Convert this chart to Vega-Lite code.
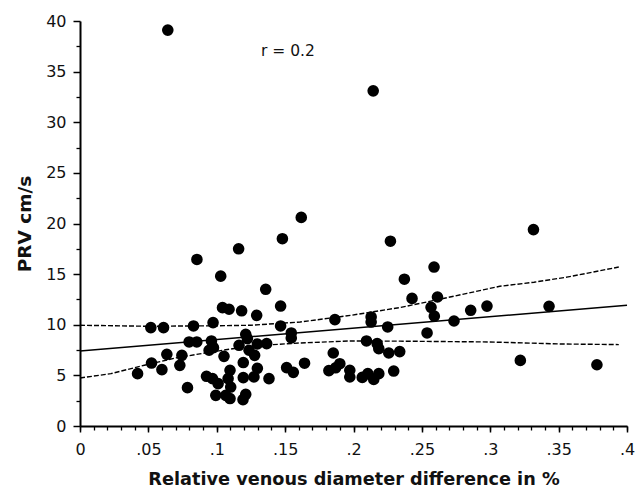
{
  "$schema": "https://vega.github.io/schema/vega-lite/v6.json",
  "autosize": {"type": "none"},
  "padding": {"left": 80, "top": 21, "right": 16, "bottom": 61},
  "width": 547,
  "height": 405,
  "background": "white",
  "config": {
    "view": {"stroke": null},
    "axis": {"grid": false, "domainColor": "black", "tickColor": "black", "labelColor": "#111", "titleColor": "#111", "labelFont": "DejaVu Sans", "titleFont": "DejaVu Sans"}
  },
  "datasets": {
    "pts": [
      {"x": 0.0642, "y": 39.1}, {"x": 0.2144, "y": 33.1}, {"x": 0.1618, "y": 20.6}, {"x": 0.148, "y": 18.5},
      {"x": 0.227, "y": 18.25}, {"x": 0.3316, "y": 19.4}, {"x": 0.116, "y": 17.5}, {"x": 0.0855, "y": 16.45},
      {"x": 0.1029, "y": 14.8}, {"x": 0.1358, "y": 13.5}, {"x": 0.2372, "y": 14.5}, {"x": 0.2589, "y": 15.7},
      {"x": 0.2428, "y": 12.6}, {"x": 0.2614, "y": 12.74}, {"x": 0.2567, "y": 11.72}, {"x": 0.2591, "y": 10.85},
      {"x": 0.2857, "y": 11.43}, {"x": 0.2976, "y": 11.84}, {"x": 0.343, "y": 11.82}, {"x": 0.2735, "y": 10.37},
      {"x": 0.2538, "y": 9.19}, {"x": 0.225, "y": 9.78}, {"x": 0.2129, "y": 10.77}, {"x": 0.2129, "y": 10.27},
      {"x": 0.1864, "y": 10.51}, {"x": 0.1467, "y": 11.85}, {"x": 0.1467, "y": 9.88}, {"x": 0.1545, "y": 9.19},
      {"x": 0.1545, "y": 8.69}, {"x": 0.1292, "y": 10.93}, {"x": 0.1042, "y": 11.69}, {"x": 0.109, "y": 11.53},
      {"x": 0.1182, "y": 11.38}, {"x": 0.0973, "y": 10.21}, {"x": 0.083, "y": 9.88}, {"x": 0.0518, "y": 9.72},
      {"x": 0.0611, "y": 9.72}, {"x": 0.0798, "y": 8.3}, {"x": 0.0854, "y": 8.3}, {"x": 0.0961, "y": 8.4},
      {"x": 0.0944, "y": 7.48}, {"x": 0.0976, "y": 7.74}, {"x": 0.1212, "y": 9.06}, {"x": 0.1224, "y": 8.63},
      {"x": 0.1163, "y": 7.97}, {"x": 0.1297, "y": 8.1}, {"x": 0.1236, "y": 7.48}, {"x": 0.1277, "y": 6.98},
      {"x": 0.1365, "y": 8.14}, {"x": 0.1053, "y": 6.88}, {"x": 0.1194, "y": 6.27}, {"x": 0.0635, "y": 7.08},
      {"x": 0.0745, "y": 6.98}, {"x": 0.073, "y": 5.99}, {"x": 0.0523, "y": 6.22}, {"x": 0.0599, "y": 5.57},
      {"x": 0.0421, "y": 5.17}, {"x": 0.0786, "y": 3.79}, {"x": 0.0925, "y": 4.91}, {"x": 0.0969, "y": 4.68},
      {"x": 0.101, "y": 4.19}, {"x": 0.0993, "y": 3.03}, {"x": 0.1097, "y": 5.5}, {"x": 0.1083, "y": 4.68},
      {"x": 0.1102, "y": 3.85}, {"x": 0.1066, "y": 3.03}, {"x": 0.1097, "y": 2.71}, {"x": 0.1194, "y": 4.78},
      {"x": 0.1212, "y": 3.13}, {"x": 0.1192, "y": 2.61}, {"x": 0.1272, "y": 4.85}, {"x": 0.1297, "y": 5.7},
      {"x": 0.1382, "y": 4.68}, {"x": 0.1511, "y": 5.77}, {"x": 0.156, "y": 5.3}, {"x": 0.1642, "y": 6.2},
      {"x": 0.182, "y": 5.47}, {"x": 0.1869, "y": 5.75}, {"x": 0.19, "y": 6.15}, {"x": 0.1852, "y": 7.21},
      {"x": 0.1973, "y": 5.5}, {"x": 0.1973, "y": 4.84}, {"x": 0.2064, "y": 4.8}, {"x": 0.2105, "y": 5.17},
      {"x": 0.2148, "y": 4.6}, {"x": 0.2185, "y": 5.17}, {"x": 0.2095, "y": 8.4}, {"x": 0.2173, "y": 8.14},
      {"x": 0.2185, "y": 7.64}, {"x": 0.2258, "y": 7.21}, {"x": 0.2338, "y": 7.35}, {"x": 0.2294, "y": 5.43},
      {"x": 0.322, "y": 6.48}, {"x": 0.378, "y": 6.05}
    ],
    "fit": [{"x": 0, "y": 7.4}, {"x": 0.4, "y": 11.92}],
    "upper": [
      {"x": 0, "y": 9.95}, {"x": 0.05, "y": 9.85}, {"x": 0.1, "y": 9.9}, {"x": 0.125, "y": 9.95},
      {"x": 0.161, "y": 10.27}, {"x": 0.198, "y": 10.93}, {"x": 0.234, "y": 11.7}, {"x": 0.259, "y": 12.4},
      {"x": 0.283, "y": 13.1}, {"x": 0.307, "y": 13.8}, {"x": 0.332, "y": 14.2}, {"x": 0.356, "y": 14.7},
      {"x": 0.394, "y": 15.7}
    ],
    "lower": [
      {"x": 0, "y": 4.74}, {"x": 0.0226, "y": 5.17}, {"x": 0.047, "y": 6.0}, {"x": 0.071, "y": 6.75},
      {"x": 0.096, "y": 7.31}, {"x": 0.125, "y": 7.9}, {"x": 0.161, "y": 8.2}, {"x": 0.198, "y": 8.4},
      {"x": 0.234, "y": 8.38}, {"x": 0.299, "y": 8.3}, {"x": 0.352, "y": 8.1}, {"x": 0.394, "y": 8.04}
    ],
    "note": [{"x": 0.152, "y": 37, "label": "r = 0.2"}]
  },
  "layer": [
    {
      "data": {"name": "pts"},
      "mark": {"type": "circle", "size": 135, "color": "black", "opacity": 1},
      "encoding": {
        "x": {"field": "x", "type": "quantitative", "scale": {"domain": [0, 0.4], "nice": false, "zero": false},
          "axis": {"orient": "bottom", "values": [0, 0.05, 0.1, 0.15, 0.2, 0.25, 0.3, 0.35, 0.4],
            "labelExpr": "datum.value == 0 ? '0' : replace(format(datum.value, '.2~f'), '0.', '.')",
            "tickSize": 6, "tickWidth": 1.5, "domainWidth": 2, "labelPadding": 9, "labelFontSize": 16, "labelFlush": false,
            "title": "Relative venous diameter difference in %", "titleFontSize": 17.7, "titleFontWeight": "bold",
            "titleX": 273.5, "titleY": 58, "titleBaseline": "alphabetic", "titleAlign": "center"}},
        "y": {"field": "y", "type": "quantitative", "scale": {"domain": [0, 40], "nice": false},
          "axis": {"orient": "left", "values": [0, 5, 10, 15, 20, 25, 30, 35, 40],
            "tickSize": 7, "tickWidth": 1.5, "domainWidth": 2, "labelPadding": 7, "labelFontSize": 16, "labelFlush": false,
            "title": "PRV cm/s", "titleFontSize": 18.5, "titleFontWeight": "bold",
            "titleX": -50, "titleY": 202.5, "titleBaseline": "alphabetic", "titleAlign": "center", "titleAngle": -90}}
      }
    },
    {
      "data": {"name": "fit"},
      "mark": {"type": "line", "color": "black", "strokeWidth": 1.5},
      "encoding": {
        "x": {"field": "x", "type": "quantitative", "scale": {"domain": [0, 0.4], "nice": false, "zero": false},
          "axis": {"orient": "bottom", "values": [0, 0.01, 0.02, 0.03, 0.04, 0.05, 0.06, 0.07, 0.08, 0.09, 0.1, 0.11, 0.12, 0.13, 0.14, 0.15, 0.16, 0.17, 0.18, 0.19, 0.2, 0.21, 0.22, 0.23, 0.24, 0.25, 0.26, 0.27, 0.28, 0.29, 0.3, 0.31, 0.32, 0.33, 0.34, 0.35, 0.36, 0.37, 0.38, 0.39, 0.4],
            "labels": false, "domain": false, "tickSize": 4, "tickWidth": 1.3, "title": null}},
        "y": {"field": "y", "type": "quantitative", "scale": {"domain": [0, 40], "nice": false},
          "axis": {"orient": "left", "values": [2.5, 7.5, 12.5, 17.5, 22.5, 27.5, 32.5, 37.5],
            "labels": false, "domain": false, "tickSize": 4, "tickWidth": 1.3, "title": null}}
      }
    },
    {
      "data": {"name": "upper"},
      "mark": {"type": "line", "color": "black", "strokeWidth": 1.4, "strokeDash": [5, 2]},
      "encoding": {
        "x": {"field": "x", "type": "quantitative", "scale": {"domain": [0, 0.4], "nice": false, "zero": false}, "axis": null},
        "y": {"field": "y", "type": "quantitative", "scale": {"domain": [0, 40], "nice": false}, "axis": null}
      }
    },
    {
      "data": {"name": "lower"},
      "mark": {"type": "line", "color": "black", "strokeWidth": 1.4, "strokeDash": [5, 2]},
      "encoding": {
        "x": {"field": "x", "type": "quantitative", "scale": {"domain": [0, 0.4], "nice": false, "zero": false}, "axis": null},
        "y": {"field": "y", "type": "quantitative", "scale": {"domain": [0, 40], "nice": false}, "axis": null}
      }
    },
    {
      "data": {"name": "note"},
      "mark": {"type": "text", "font": "DejaVu Sans", "fontSize": 15.5, "color": "#111", "align": "center", "baseline": "middle"},
      "encoding": {
        "x": {"field": "x", "type": "quantitative", "scale": {"domain": [0, 0.4], "nice": false, "zero": false}, "axis": null},
        "y": {"field": "y", "type": "quantitative", "scale": {"domain": [0, 40], "nice": false}, "axis": null},
        "text": {"field": "label"}
      }
    }
  ],
  "resolve": {"axis": {"x": "independent", "y": "independent"}}
}
